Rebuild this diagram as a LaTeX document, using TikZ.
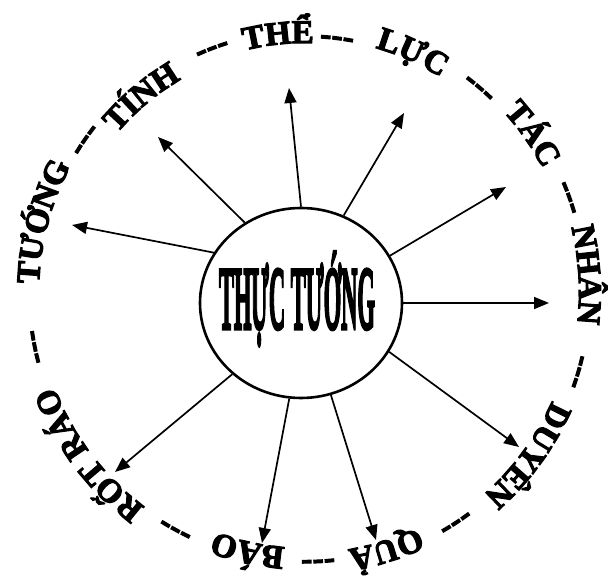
\documentclass[tikz,border=0pt]{standalone}
\usepackage{fontspec}
\setmainfont{Liberation Serif}
\newfontfamily\hubfont{Liberation Serif}[BoldFeatures={FakeBold=4}]
\newfontfamily\ringfamily{Liberation Serif}[BoldFeatures={FakeBold=3.5}]
\usetikzlibrary{arrows.meta,positioning,shapes.geometric,decorations.text,calc}

% words round the ring
\newcommand{\ringfont}{\ringfamily\fontsize{33}{36}\selectfont\bfseries}
\newcommand{\ringtext}[3]{%
  \path[decorate, decoration={text along path, text align=center,
      text={|\ringfont|#3}}]
    ($(ring)+({#1+40}:#2)$) arc[start angle={#1+40}, end angle={#1-40}, radius=#2];}

\tikzset{
  hub/.style={draw, ellipse, line width=2.6pt, minimum width=202pt,
    minimum height=190pt, inner sep=0pt},
  spoke/.style={line width=1.7pt, -{Triangle[length=15pt,width=12pt]}}
}

\begin{document}
\begin{tikzpicture}[x=1pt, y=1pt]
    \useasboundingbox (0,0) rectangle (608,583);

    % Centre
    \node[hub] (tt) at (301,280) {};
    \node (ttlabel) at (297,284)
        {\scalebox{0.25}[1]{\hubfont\bfseries\fontsize{90}{90}\selectfont TH\kern-2ptỰC TƯỚNG}};

    % Ring of words
    \coordinate (ring) at (305,291);
    \ringtext{165}{266}{TƯỚNG}
    \ringtext{145.3}{260}{---}
    \ringtext{130}{246}{TÍNH}
    \ringtext{110.9}{253}{---}
    \ringtext{96}{249}{THỂ}
    \ringtext{82.8}{248}{---}
    \ringtext{65.8}{254}{LỰC}
    \ringtext{49.5}{261}{---}
    \ringtext{34.8}{268}{TÁC}
    \ringtext{19.7}{273}{---}
    \ringtext{3.5}{274}{NHÂN}
    \ringtext{-16.3}{277}{---}
    \ringtext{-36.2}{270}{DUYÊN}
    \ringtext{-56.8}{268}{---}
    \ringtext{-72.5}{261}{QUẢ}
    \ringtext{-87.2}{262}{---}
    \ringtext{-102.5}{256}{BÁO}
    \ringtext{-118.6}{263}{---}
    \ringtext{-143}{268}{RỐT RÁO}
    \ringtext{-168.5}{268}{---}

    % Arrow tips
    \coordinate (tipTuong) at (72,358);
    \coordinate (tipTinh) at (158,446);
    \coordinate (tipThe) at (289,495);
    \coordinate (tipLuc) at (404,470);
    \coordinate (tipTac) at (506,396);
    \coordinate (tipNhan) at (549,280);
    \coordinate (tipDuyen) at (519,136);
    \coordinate (tipQua) at (376,43);
    \coordinate (tipBao) at (262,40);
    \coordinate (tipRotRao) at (115,111);

    % Arrows
    \foreach \a/\t in {150.9/tipTuong, 125.9/tipTinh, 90.6/tipThe, 64.7/tipLuc,
        28.1/tipTac, 0/tipNhan, -29/tipDuyen, -72.8/tipQua, -97.5/tipBao,
        -134.2/tipRotRao}
        \draw[spoke] (tt.\a) -- (\t);
\end{tikzpicture}
\end{document}
